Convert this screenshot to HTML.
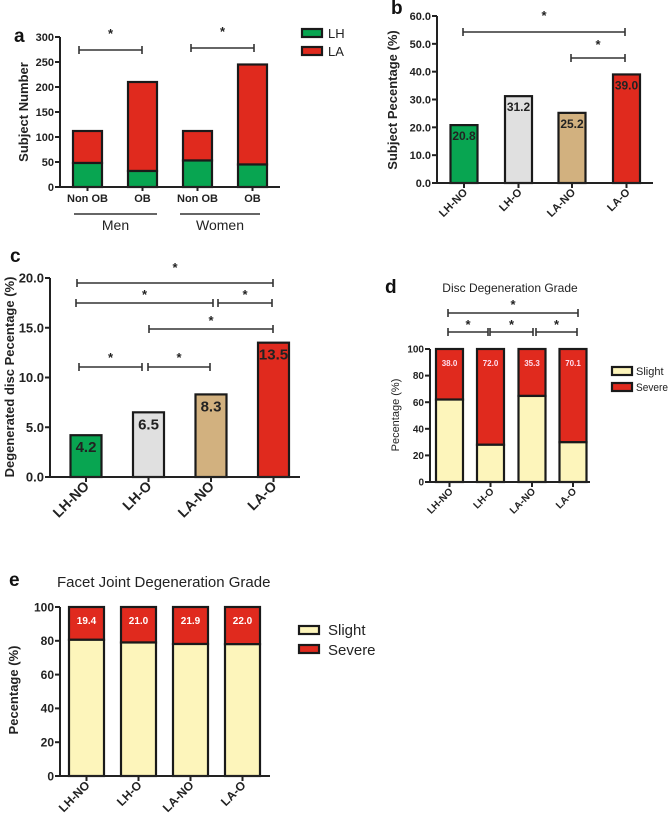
<!DOCTYPE html>
<html><head><meta charset="utf-8">
<style>
html,body{margin:0;padding:0;background:#fff;}
svg{display:block;font-family:"Liberation Sans",Arial,sans-serif;}
</style></head>
<body>
<svg id="fig" width="669" height="822" viewBox="0 0 669 822" xmlns="http://www.w3.org/2000/svg"></svg>
<script>
// Panel a data
const aCategories = ["Non OB","OB","Non OB","OB"];
const aLH = [48,32,53,45];
const aLA = [64,178,59,200];
const aTicks = [0,50,100,150,200,250,300];
// Panel b data
const bCategories = ["LH-NO","LH-O","LA-NO","LA-O"];
const bValues = [20.8,31.2,25.2,39.0];
const bTicks = [0,10,20,30,40,50,60];
// Panel c data
const cCategories = ["LH-NO","LH-O","LA-NO","LA-O"];
const cValues = [4.2,6.5,8.3,13.5];
const cTicks = [0,5,10,15,20];
// Panel d data
const dCategories = ["LH-NO","LH-O","LA-NO","LA-O"];
const dSevere = [38.0,72.0,35.3,70.1];
const dTicks = [0,20,40,60,80,100];
// Panel e data
const eCategories = ["LH-NO","LH-O","LA-NO","LA-O"];
const eSevere = [19.4,21.0,21.9,22.0];
const eTicks = [0,20,40,60,80,100];

const NS="http://www.w3.org/2000/svg";
const svg=document.getElementById('fig');
function mk(tag,attrs,text){const e=document.createElementNS(NS,tag);for(const k in attrs)e.setAttribute(k,attrs[k]);if(text!==undefined)e.textContent=text;svg.appendChild(e);return e;}
function lin(d0,d1,r0,r1){return v=>r0+(v-d0)*(r1-r0)/(d1-d0);}
const GREEN="#08a551",RED="#e02a1e",GREY="#e0e0e0",TAN="#d2b17f",CREAM="#fdf5bb";

function axes(x0,yTop,yBot,xEnd,ticks,y,fs,fmt,prefix){
  let e=mk('line',{x1:x0,y1:yTop,x2:x0,y2:yBot,stroke:'#222','stroke-width':2});
  
  e=mk('line',{x1:x0,y1:yBot,x2:xEnd,y2:yBot,stroke:'#222','stroke-width':2});
  
  ticks.forEach(t=>{
    mk('line',{x1:x0-5,y1:y(t),x2:x0,y2:y(t),stroke:'#222','stroke-width':2});
    e=mk('text',{x:x0-6,y:y(t)+fs*0.36,'text-anchor':'end','font-size':fs,'font-weight':'bold',fill:'#222'},fmt(t));
    
  });
}
function bracket(x1,x2,yy,starY,prefix){
  let e=mk('line',{x1:x1,y1:yy,x2:x2,y2:yy,stroke:'#333','stroke-width':1.6});
  
  mk('line',{x1:x1,y1:yy-4,x2:x1,y2:yy+4,stroke:'#333','stroke-width':1.6});
  mk('line',{x1:x2,y1:yy-4,x2:x2,y2:yy+4,stroke:'#333','stroke-width':1.6});
  e=mk('text',{x:(x1+x2)/2,y:starY,'text-anchor':'middle','font-size':13,'font-weight':'bold',fill:'#222'},'*');
  
}
function rotLabels(cats,xs,yBot,fs,prefix){
  cats.forEach((c,i)=>{
    mk('line',{x1:xs[i],y1:yBot,x2:xs[i],y2:yBot+5,stroke:'#222','stroke-width':2});
    const e=mk('text',{x:xs[i]+4,y:yBot+10,'text-anchor':'end','font-size':fs,'font-weight':'bold',fill:'#222',transform:`rotate(-45 ${xs[i]+4} ${yBot+10})`},c);
    
  });
}
function ylab(x,y,txt,fs,prefix,bold){
  const e=mk('text',{x:x,y:y,'text-anchor':'middle','font-size':fs,'font-weight':bold?'bold':'normal',fill:'#222',transform:`rotate(-90 ${x} ${y})`},txt);
  
}
function plabel(x,y,t){const e=mk('text',{x:x,y:y,'font-size':19,'font-weight':'bold',fill:'#111'},t);}
function rect(x,y,w,h,fill,name){const e=mk('rect',{x:x,y:y,width:w,height:h,fill:fill,stroke:'#1a1a1a','stroke-width':2.2});return e;}

// ---- Panel a ----
(function(){
  const y=lin(0,300,187,37);
  const xs=[87.5,142.5,197.5,252.5],w=29;
  plabel(14,42,'a');
  aCategories.forEach((c,i)=>{
    const lh=aLH[i],la=aLA[i];
    rect(xs[i]-w/2,y(lh+la),w,y(lh)-y(lh+la),RED,'a-bar-la-'+i);
    rect(xs[i]-w/2,y(lh),w,y(0)-y(lh),GREEN,'a-bar-lh-'+i);
    const e=mk('text',{x:xs[i],y:202,'text-anchor':'middle','font-size':11,'font-weight':'bold',fill:'#222'},c);
    
    mk('line',{x1:xs[i],y1:187,x2:xs[i],y2:191,stroke:'#222','stroke-width':2});
  });
  axes(60,37,187,280,aTicks,y,11,t=>t,'a');
  [["Men",74,157],["Women",180,260]].forEach(g=>{
    mk('line',{x1:g[1],y1:214,x2:g[2],y2:214,stroke:'#333','stroke-width':1.5});
    const e=mk('text',{x:(g[1]+g[2])/2,y:230,'text-anchor':'middle','font-size':14,fill:'#222'},g[0]);
    
  });
  bracket(79,142,50,38,'a');bracket(191,254,48,36,'a');
  ylab(28,112,'Subject Number',13,'a',true);
  rect(302,29,20,8,GREEN,'a-legend-swatch-lh');
  rect(302,47,20,8,RED,'a-legend-swatch-la');
  let e=mk('text',{x:328,y:38,'font-size':13,fill:'#222'},'LH');
  e=mk('text',{x:328,y:56,'font-size':13,fill:'#222'},'LA');
})();

// ---- Panel b ----
(function(){
  const y=lin(0,60,183,16);
  const xs=[464,518.5,572,626.5],w=27,cols=[GREEN,GREY,TAN,RED];
  plabel(391,14,'b');
  bValues.forEach((v,i)=>{
    rect(xs[i]-w/2,y(v),w,y(0)-y(v),cols[i],'b-bar-'+i);
    const e=mk('text',{x:xs[i],y:y(v)+15,'text-anchor':'middle','font-size':12,'font-weight':'bold',fill:'#222'},v.toFixed(1));
    
  });
  axes(437,16,183,653,bTicks,y,11,t=>t.toFixed(1),'b');
  rotLabels(bCategories,xs,183,11,'b');
  bracket(463,625,32,20,'b');bracket(571,625,58,49,'b');
  ylab(397,100,'Subject Pecentage (%)',13,'b',true);
})();

// ---- Panel c ----
(function(){
  const y=lin(0,20,477,278);
  const xs=[86,148.5,211,273.5],w=31,cols=[GREEN,GREY,TAN,RED];
  plabel(10,262,'c');
  cValues.forEach((v,i)=>{
    rect(xs[i]-w/2,y(v),w,y(0)-y(v),cols[i],'c-bar-'+i);
    const e=mk('text',{x:xs[i],y:y(v)+17,'text-anchor':'middle','font-size':15,'font-weight':'bold',fill:'#222'},v.toFixed(1));
    
  });
  axes(50,278,477,300,cTicks,y,13,t=>t.toFixed(1),'c');
  rotLabels(cCategories,xs,477,14,'c');
  bracket(77,273,283,272,'c');bracket(76,213,303,299,'c');bracket(218,272,303,299,'c');
  bracket(149,273,329,325,'c');bracket(79,142,367,362,'c');bracket(148,210,367,362,'c');
  ylab(14,377,'Degenerated disc Pecentage (%)',13,'c',true);
})();

// ---- Panel d ----
(function(){
  const y=lin(0,100,482,349);
  const xs=[449.5,490.5,532,573],w=27;
  plabel(385,293,'d');
  let e=mk('text',{x:510,y:292,'text-anchor':'middle','font-size':12,fill:'#222'},'Disc Degeneration Grade');
  
  dSevere.forEach((s,i)=>{
    const sl=100-s;
    rect(xs[i]-w/2,y(100),w,y(sl)-y(100),RED,'d-bar-severe-'+i);
    rect(xs[i]-w/2,y(sl),w,y(0)-y(sl),CREAM,'d-bar-slight-'+i);
    const t=mk('text',{x:xs[i],y:366,'text-anchor':'middle','font-size':8,'font-weight':'bold',fill:'#fde'},s.toFixed(1));
    
  });
  axes(430,349,482,590,dTicks,y,10,t=>t,'d');
  rotLabels(dCategories,xs,482,10,'d');
  bracket(448,578,313,309,'d');bracket(448,488,332,329,'d');bracket(490,533,332,329,'d');bracket(536,577,332,329,'d');
  ylab(399,415,'Pecentage (%)',11,'d',false);
  rect(612,367,20,8,CREAM,'d-legend-swatch-slight');
  rect(612,383,20,8,RED,'d-legend-swatch-severe');
  e=mk('text',{x:636,y:375,'font-size':11,fill:'#222'},'Slight');
  e=mk('text',{x:636,y:391,'font-size':11,fill:'#222',textLength:32,lengthAdjust:'spacingAndGlyphs'},'Severe');
})();

// ---- Panel e ----
(function(){
  const y=lin(0,100,776,607);
  const xs=[86.5,138.5,190.5,242.5],w=35;
  plabel(9,586,'e');
  let e=mk('text',{x:57,y:587,'font-size':15,fill:'#222'},'Facet Joint Degeneration Grade');
  
  eSevere.forEach((s,i)=>{
    const sl=100-s;
    rect(xs[i]-w/2,y(100),w,y(sl)-y(100),RED,'e-bar-severe-'+i);
    rect(xs[i]-w/2,y(sl),w,y(0)-y(sl),CREAM,'e-bar-slight-'+i);
    const t=mk('text',{x:xs[i],y:624,'text-anchor':'middle','font-size':10,'font-weight':'bold',fill:'#fff'},s.toFixed(1));
    
  });
  axes(60,607,776,270,eTicks,y,12,t=>t,'e');
  rotLabels(eCategories,xs,776,12,'e');
  ylab(18,690,'Pecentage (%)',13,'e',true);
  rect(299,626,20,8,CREAM,'e-legend-swatch-slight');
  rect(299,645,20,8,RED,'e-legend-swatch-severe');
  e=mk('text',{x:328,y:635,'font-size':15,fill:'#222'},'Slight');
  e=mk('text',{x:328,y:655,'font-size':15,fill:'#222'},'Severe');
})();
</script>
</body></html>
